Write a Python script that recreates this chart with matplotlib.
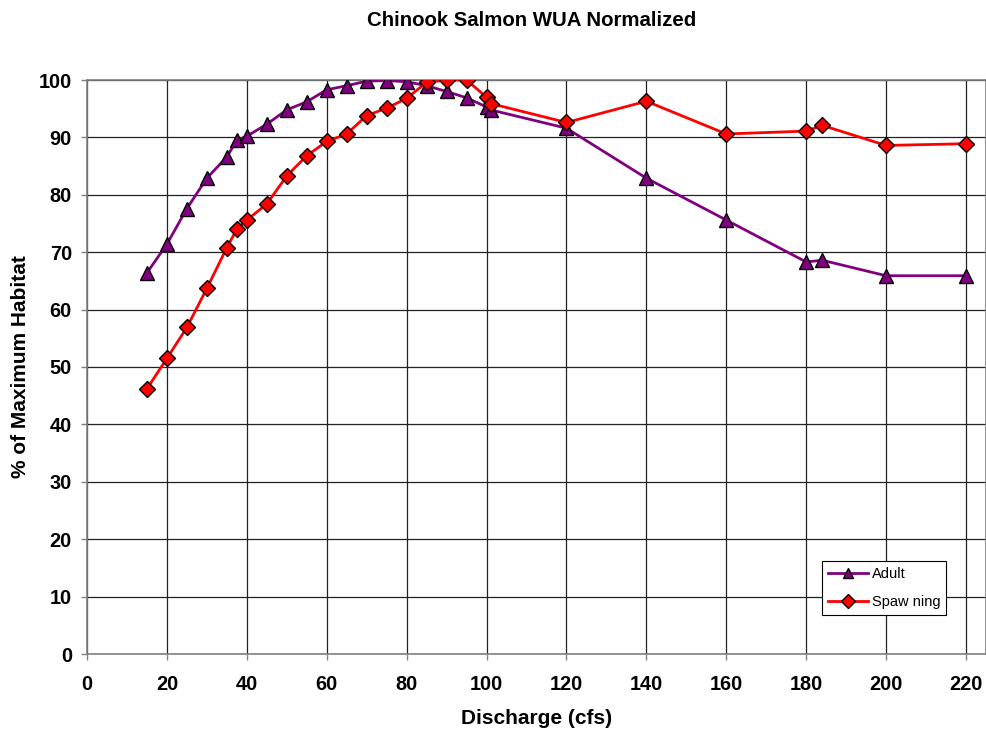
import matplotlib
matplotlib.use("Agg")
import matplotlib.pyplot as plt

plt.rcParams['font.family'] = ['Liberation Sans', 'DejaVu Sans']

discharge = [15, 20, 25, 30, 35, 37.5, 40, 45, 50, 55, 60, 65, 70, 75, 80, 85, 90, 95,
             100, 101, 120, 140, 160, 180, 184, 200, 220]
adult = [66.4, 71.4, 77.6, 82.9, 86.6, 89.5, 90.2, 92.3, 94.8, 96.2, 98.3, 99.0, 99.8, 99.9,
         99.7, 99.0, 98.0, 96.9, 95.3, 94.8, 91.6, 82.9, 75.6, 68.3, 68.6, 65.9, 65.9]
spawning = [46.2, 51.5, 56.9, 63.7, 70.8, 74.0, 75.6, 78.4, 83.3, 86.8, 89.3, 90.6, 93.8, 95.1,
            96.8, 99.6, 100.0, 100.0, 97.0, 95.9, 92.6, 96.3, 90.6, 91.1, 92.1, 88.6, 88.9]

xticks = list(range(0, 221, 20))
yticks = list(range(0, 101, 10))

fig = plt.figure(figsize=(9.87, 7.31), dpi=100)
ax = fig.add_axes([87/987, 77/731, 899/987, 574/731])

ax.plot(discharge, adult, color='#800080', lw=2.0, marker='^', ms=10,
        markerfacecolor='#800080', markeredgecolor='black', markeredgewidth=1.0,
        label='Adult', zorder=3)
ax.plot(discharge, spawning, color='#ff0000', lw=2.0, marker='D', ms=8,
        markerfacecolor='#ff0000', markeredgecolor='black', markeredgewidth=1.0,
        label='Spaw ning', zorder=4)

ax.set_xlim(0, 225)
ax.set_ylim(0, 100)
ax.set_xticks(xticks)
ax.set_yticks(yticks)
ax.grid(True, color='#222222', lw=0.9)
ax.set_axisbelow(True)
for s in ax.spines.values():
    s.set_color('#808080')
    s.set_linewidth(1.2)
ax.tick_params(axis='both', direction='out', length=4.3, color='#808080', width=1.0,
               labelsize=14.4)
ax.tick_params(axis='x', pad=11)
ax.tick_params(axis='y', pad=6.5)
for lbl in ax.get_xticklabels() + ax.get_yticklabels():
    lbl.set_fontweight('bold')

ax.set_xlabel('Discharge (cfs)', fontsize=15, fontweight='bold', labelpad=10.7)
ax.set_ylabel('% of Maximum Habitat', fontsize=15, fontweight='bold', labelpad=6)
fig.text(532/987, 1 - 20/731, 'Chinook Salmon WUA Normalized', ha='center', va='center',
         fontsize=14.7, fontweight='bold')

leg = ax.legend(loc='upper left', bbox_to_anchor=(0.818, 0.162), fontsize=10.5,
                frameon=True, fancybox=False, edgecolor='black', framealpha=1,
                borderpad=0.4, handlelength=2.7, labelspacing=1.0, handletextpad=0.3,
                borderaxespad=0)
leg.get_frame().set_linewidth(0.8)
for h in leg.legend_handles:
    h.set_markersize(7)

fig.savefig('out.png', dpi=100)
